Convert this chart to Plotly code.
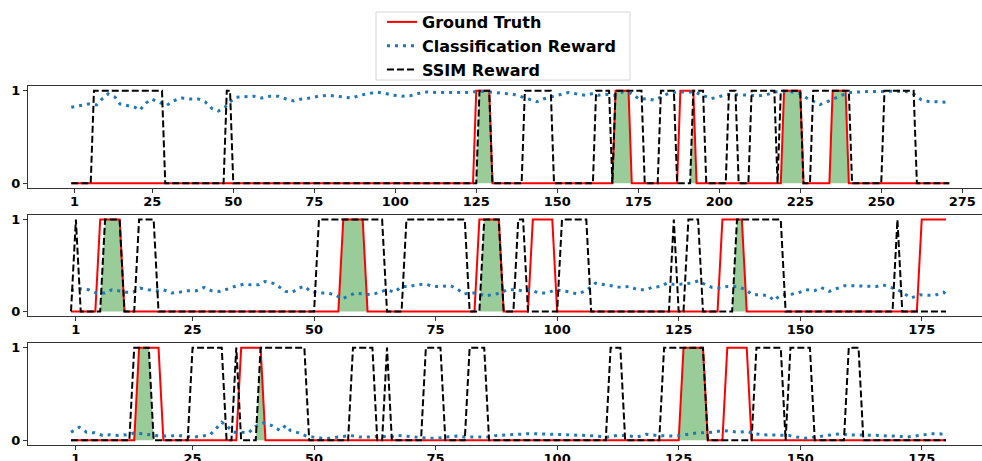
import plotly.graph_objects as go

# ---------------- data ----------------
N1 = 272   # time steps in panel 1 (0..271)
N2 = 181   # panel 2 (0..180)
N3 = 181   # panel 3 (0..180)

# intervals (inclusive) where the binary signal equals 1
gt1_on = [(125, 129), (168, 172), (188, 192), (220, 225), (235, 239)]
ssim1_on = [(7, 28), (48, 49), (126, 129), (140, 148), (162, 166), (168, 176),
            (182, 186), (192, 195), (203, 205), (210, 217), (219, 225),
            (229, 240), (251, 260)]

gt2_on = [(6, 10), (56, 60), (84, 88), (95, 99), (134, 138), (175, 180)]
ssim2_on = [(1, 1), (7, 10), (14, 17), (51, 64), (69, 81), (85, 88), (92, 93),
            (101, 106), (124, 124), (127, 129), (137, 146), (170, 170)]

gt3_on = [(14, 18), (35, 39), (126, 130), (135, 139)]
ssim3_on = [(13, 16), (25, 31), (34, 34), (39, 48), (58, 62), (65, 65), (73, 76),
            (82, 85), (111, 113), (122, 130), (141, 146), (148, 152), (160, 162)]

cls1_x = [0, 2.7, 5.3, 7.8, 9.4, 11.4, 13.5, 15, 17.6, 19.7, 21.2, 22.8, 24.8, 27.4,
          29.4, 31.5, 34, 36.6, 39.2, 41.3, 43.3, 45.4, 47.4, 49, 51, 53.6, 56.2,
          58.8, 61.3, 63.9, 66.3, 68.6, 71.1, 73.7, 76.2, 79.4, 82, 84.6, 86.6,
          89.2, 91.8, 94.3, 96.9, 99.5, 102, 104.6, 107.2, 109.7, 112.8, 115.4,
          118, 120.5, 123.1, 125.7, 128.2, 130.8, 133.4, 136, 138.5, 141.1, 143.7,
          145.7, 148.3, 150.9, 153.5, 156, 158.6, 161.2, 162.6, 165, 167.7, 170.3,
          172.8, 175.4, 177.5, 180, 182.1, 184.7, 187.2, 189.8, 192.3, 194.9,
          197.5, 199.5, 202.1, 204.4, 207, 209.5, 212.1, 214.7, 217.3, 219.8,
          222.4, 225, 227, 229.1, 231.1, 232.7, 235.3, 237.8, 240.4, 243, 245.6,
          249.6, 253.7, 257.8, 260.4, 262.4, 265, 267.5, 270.2]
cls1_y = [0.82, 0.835, 0.857, 0.846, 0.907, 0.965, 0.93, 0.857, 0.84, 0.82, 0.79,
          0.86, 0.91, 0.875, 0.84, 0.89, 0.92, 0.91, 0.91, 0.88, 0.81, 0.78, 0.82,
          0.88, 0.93, 0.935, 0.94, 0.92, 0.94, 0.94, 0.91, 0.89, 0.91, 0.92, 0.94,
          0.95, 0.94, 0.935, 0.92, 0.95, 0.97, 0.985, 0.97, 0.95, 0.94, 0.945,
          0.97, 0.985, 0.98, 0.98, 0.98, 0.98, 0.98, 0.995, 0.99, 0.98, 0.97,
          0.965, 0.94, 0.91, 0.88, 0.91, 0.935, 0.955, 0.98, 0.965, 0.95, 0.97,
          0.95, 0.96, 0.95, 0.986, 0.97, 0.907, 0.914, 0.897, 0.93, 0.975, 0.986,
          0.986, 0.986, 0.95, 0.914, 0.93, 0.957, 0.957, 0.957, 0.95, 0.943,
          0.957, 0.986, 0.993, 0.986, 0.968, 0.92, 0.886, 0.85, 0.871, 0.914,
          0.95, 0.98, 0.986, 0.99, 0.99, 0.995, 0.99, 0.954, 0.9, 0.88, 0.88,
          0.875]

cls2_x = [0, 1.8, 3.6, 5.3, 7, 8.4, 9.7, 11.3, 12.8, 14.2, 15.9, 17.6, 19, 20.7,
          22.4, 24.1, 25.8, 27.4, 28.9, 30.6, 32.4, 33.7, 35.5, 36.8, 38.6, 39.9,
          41.5, 42.7, 44.1, 45.6, 46.8, 48.1, 49.2, 50.9, 52.6, 54.3, 55.7, 57.1,
          58.5, 60.2, 61.9, 63.5, 65, 66.5, 68.1, 69.7, 71.2, 72.9, 74.6, 76.4,
          77.9, 79.4, 80.8, 82.1, 83.5, 85.2, 86.6, 88.3, 89.7, 91.4, 92.8, 94.5,
          96.3, 97.9, 99.7, 101.1, 102.8, 104.1, 105.9, 107.9, 109.7, 111.4,
          113.1, 114.8, 116.6, 118.3, 119.5, 121.2, 122.6, 124.3, 126, 127.4,
          129.1, 130.5, 131.9, 133.6, 135, 137.1, 138.8, 140.2, 141.9, 143.6,
          144.6, 146, 147.7, 149.5, 151.2, 152.9, 154.3, 156, 157.4, 159.1, 160.8,
          162.6, 163.9, 165.7, 167, 168.8, 170.1, 171.5, 172.9, 174.6, 176, 177.7,
          179.5, 180.3]
cls2_y = [0.225, 0.247, 0.236, 0.2, 0.2, 0.236, 0.225, 0.21, 0.21, 0.254, 0.236,
          0.225, 0.236, 0.2, 0.21, 0.225, 0.225, 0.261, 0.225, 0.218, 0.247, 0.272,
          0.297, 0.29, 0.29, 0.326, 0.308, 0.272, 0.218, 0.21, 0.254, 0.272, 0.218,
          0.2, 0.2, 0.182, 0.136, 0.168, 0.2, 0.19, 0.182, 0.21, 0.236, 0.21, 0.272,
          0.272, 0.29, 0.297, 0.272, 0.272, 0.283, 0.247, 0.19, 0.2, 0.2, 0.168,
          0.182, 0.2, 0.236, 0.236, 0.225, 0.236, 0.2, 0.2, 0.236, 0.225, 0.21,
          0.19, 0.225, 0.308, 0.29, 0.272, 0.261, 0.272, 0.236, 0.236, 0.261,
          0.272, 0.308, 0.29, 0.297, 0.308, 0.333, 0.29, 0.261, 0.254, 0.272,
          0.272, 0.236, 0.182, 0.182, 0.168, 0.118, 0.182, 0.182, 0.2, 0.236,
          0.225, 0.261, 0.218, 0.247, 0.279, 0.279, 0.279, 0.279, 0.272, 0.29,
          0.254, 0.236, 0.19, 0.147, 0.182, 0.175, 0.175, 0.21, 0.175]

cls3_x = [0, 1.7, 3.2, 4.9, 6.5, 8, 9.7, 11.4, 13.2, 14.9, 16.6, 18.3, 20, 21.7,
          23.5, 25.2, 26.9, 28.6, 29.8, 31, 32, 33.4, 35.1, 36.5, 38, 39.6, 41.3,
          43, 44.2, 45.1, 46.8, 48.4, 49.9, 51.6, 53.3, 55.3, 57.4, 59.5, 61.5,
          63.6, 65.6, 67.3, 69.4, 71.1, 73.1, 75.2, 77.2, 79.3, 81.4, 83.4, 85.5,
          87.6, 89.6, 91.7, 93.7, 95.8, 97.9, 100, 102, 104.1, 106.1, 108.2, 110.3,
          112.3, 114.4, 116.4, 118.3, 120.5, 122.2, 123.9, 125.6, 127.4, 128.8,
          130.5, 132.2, 133.9, 135.6, 137.4, 139.1, 140.8, 142.5, 144.2, 146,
          147.7, 149.4, 151.1, 152.9, 154.6, 156.3, 158, 159.7, 161.5, 163.2,
          164.9, 166.6, 168.4, 170.1, 171.8, 173.5, 175.3, 177, 178.7, 180.3]
cls3_y = [0.088, 0.142, 0.088, 0.081, 0.053, 0.06, 0.053, 0.06, 0.081, 0.07, 0.06,
          0.046, 0.046, 0.053, 0.046, 0.035, 0.046, 0.06, 0.124, 0.196, 0.16,
          0.088, 0.088, 0.081, 0.153, 0.189, 0.16, 0.106, 0.16, 0.106, 0.081,
          0.046, 0.035, 0.024, 0.024, 0.035, 0.053, 0.035, 0.035, 0.046, 0.035,
          0.053, 0.046, 0.035, 0.024, 0.024, 0.035, 0.046, 0.035, 0.035, 0.035,
          0.053, 0.06, 0.07, 0.07, 0.07, 0.07, 0.064, 0.06, 0.06, 0.053, 0.046,
          0.035, 0.053, 0.053, 0.035, 0.065, 0.053, 0.046, 0.046, 0.053, 0.07,
          0.081, 0.081, 0.088, 0.106, 0.095, 0.088, 0.095, 0.07, 0.06, 0.06, 0.053,
          0.053, 0.035, 0.024, 0.035, 0.046, 0.06, 0.07, 0.06, 0.06, 0.06, 0.06,
          0.053, 0.046, 0.046, 0.035, 0.046, 0.053, 0.07, 0.07, 0.06]

x_ticks_1 = [1, 25, 50, 75, 100, 125, 150, 175, 200, 225, 250, 275]
x_ticks_23 = [1, 25, 50, 75, 100, 125, 150, 175]
y_ticks = [0, 1]


def binary(n, on):
    s = [0] * n
    for a, b in on:
        for i in range(a, b + 1):
            s[i] = 1
    return s


panels = [
    (N1, gt1_on, ssim1_on, cls1_x, cls1_y),
    (N2, gt2_on, ssim2_on, cls2_x, cls2_y),
    (N3, gt3_on, ssim3_on, cls3_x, cls3_y),
]

RED = "#ff0000"
BLUE = "#1f77b4"
GREEN = "rgba(0,128,0,0.4)"

fig = go.Figure()
for k, (n, gt_on, ss_on, cx, cy) in enumerate(panels):
    xa = "x" if k == 0 else f"x{k+1}"
    ya = "y" if k == 0 else f"y{k+1}"
    xs = list(range(n))
    gt = binary(n, gt_on)
    ss = binary(n, ss_on)
    both = [min(a, b) for a, b in zip(gt, ss)]
    first = (k == 0)
    fig.add_trace(go.Scatter(x=xs, y=both, mode="lines", fill="tozeroy",
                             fillcolor=GREEN, line=dict(width=0, color=GREEN),
                             showlegend=False, hoverinfo="skip", xaxis=xa, yaxis=ya))
    fig.add_trace(go.Scatter(x=xs, y=gt, mode="lines", name="Ground Truth",
                             line=dict(color=RED, width=2), showlegend=first,
                             xaxis=xa, yaxis=ya))
    fig.add_trace(go.Scatter(x=cx, y=cy, mode="lines", name="Classification Reward",
                             line=dict(color=BLUE, width=3, dash="3px,5px"),
                             showlegend=first, xaxis=xa, yaxis=ya))
    fig.add_trace(go.Scatter(x=xs, y=ss, mode="lines", name="SSIM Reward",
                             line=dict(color="black", width=2, dash="7px,3px"),
                             showlegend=first, xaxis=xa, yaxis=ya))

H = 461.0
W_PLOT = 954.0
L = 28
boxes = [(86, 188), (215, 316), (343, 445)]
xranges = [[-13.36, 281.1], [-8.85, 187.4], [-8.85, 187.4]]
xticks = [x_ticks_1, x_ticks_23, x_ticks_23]

tickfont = dict(family="DejaVu Sans", size=13, color="black", weight="bold")
axis_common = dict(showline=True, linecolor="#333", linewidth=1, ticks="outside",
                   ticklen=4, tickwidth=1, tickcolor="#333", showgrid=False,
                   zeroline=False, tickfont=tickfont, automargin=False)

layout = dict(
    width=982, height=461,
    margin=dict(l=L, r=0, t=0, b=0),
    paper_bgcolor="white", plot_bgcolor="white",
    showlegend=True,
    legend=dict(x=(382 - L) / W_PLOT, y=1 - 5 / H, xanchor="left", yanchor="top",
                bgcolor="rgba(0,0,0,0)", borderwidth=0,
                font=dict(family="DejaVu Sans", size=16, color="black", weight="bold"),
                tracegroupgap=0),
    shapes=[dict(type="rect", xref="paper", yref="paper",
                 x0=(376 - L) / W_PLOT, x1=(630 - L) / W_PLOT,
                 y0=1 - 80 / H, y1=1 - 12 / H,
                 line=dict(color="#d6d6d6", width=1), fillcolor="white",
                 layer="below")],
)
for k in range(3):
    top, bot = boxes[k]
    sx = "" if k == 0 else str(k + 1)
    layout["xaxis" + sx] = dict(axis_common, domain=[0, 1], range=xranges[k],
                                tickvals=xticks[k], mirror=True,
                                ticklabelstandoff=-3,
                                anchor="y" + sx)
    layout["yaxis" + sx] = dict(axis_common, domain=[1 - bot / H, 1 - top / H],
                                range=[-0.05, 1.05], tickvals=y_ticks,
                                anchor="x" + sx)
fig.update_layout(**layout)
fig.write_html("out.html")
